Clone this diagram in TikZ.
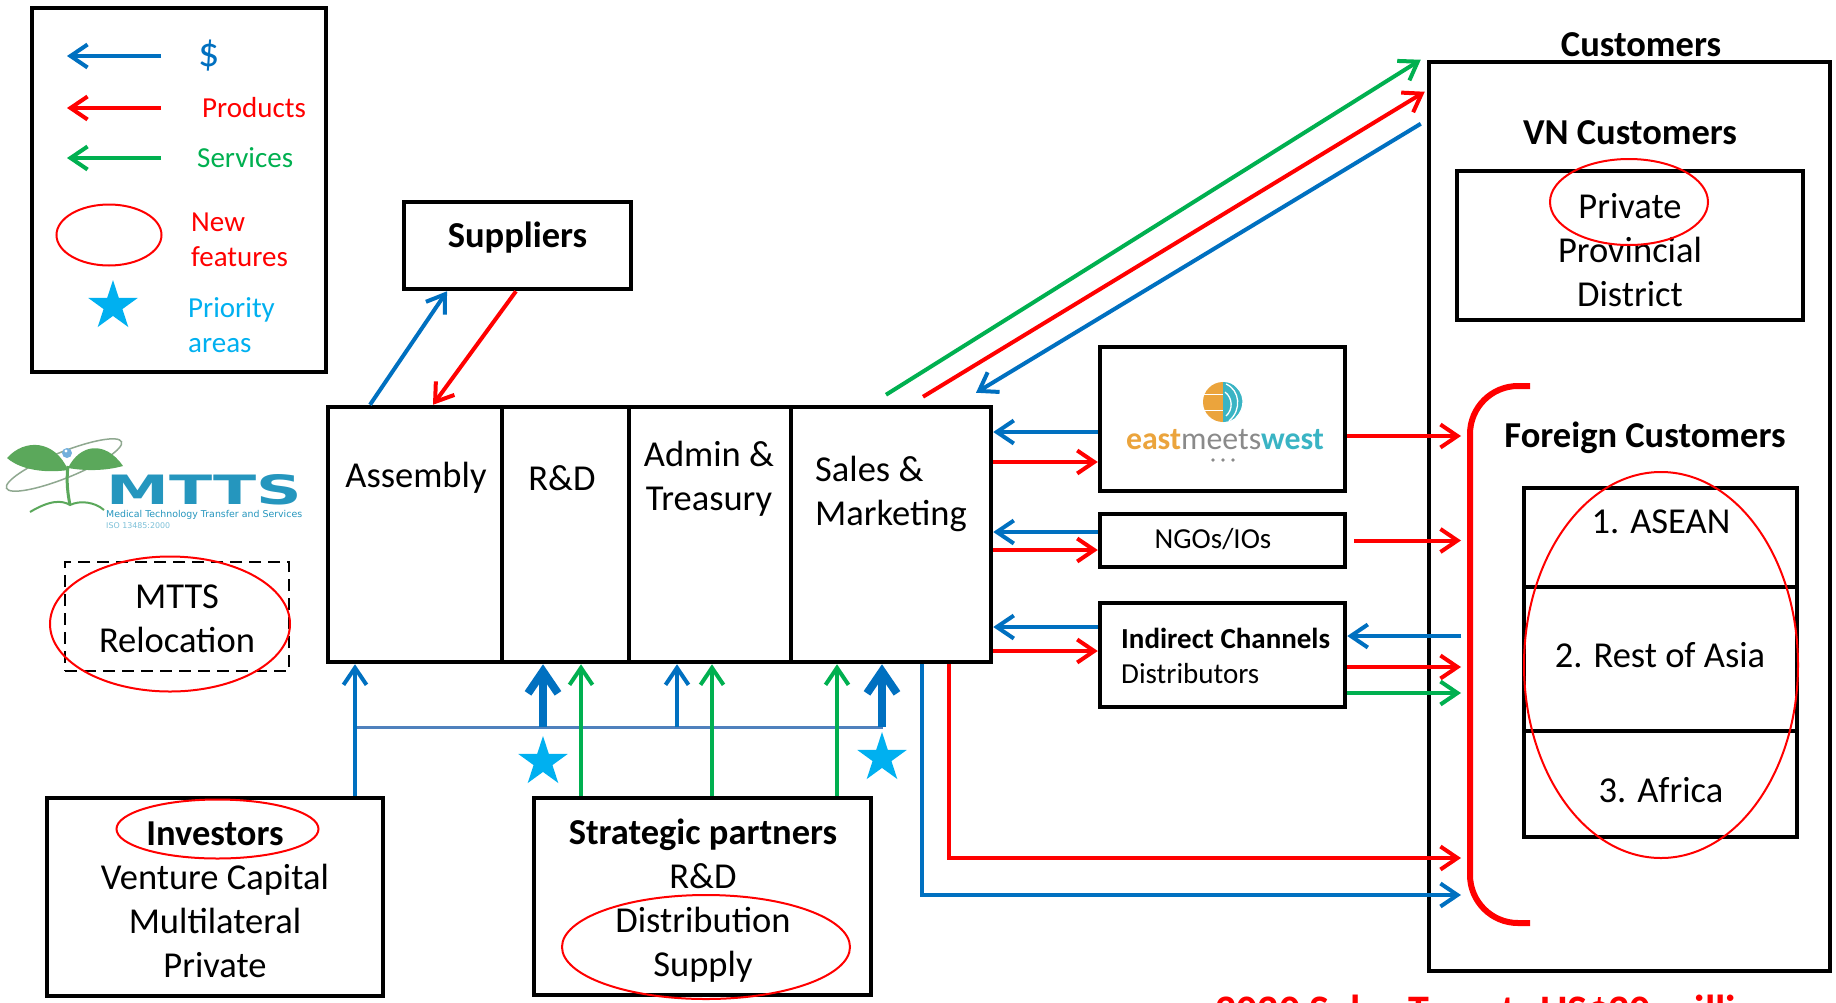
\documentclass[tikz,border=0pt]{standalone}
\usepackage{fontspec}
\usepackage{graphicx}
\setmainfont{Carlito}
\newfontfamily\logofont{DejaVu Sans}
\usetikzlibrary{arrows.meta,shapes.geometric,calc}
\definecolor{cblue}{HTML}{0070C0}
\definecolor{cred}{HTML}{FF0000}
\definecolor{cgreen}{HTML}{00B050}
\definecolor{cstar}{HTML}{00B0F0}
\definecolor{cbus}{HTML}{4F81BD}
\definecolor{mttsteal}{HTML}{2596BE}
\definecolor{leafgreen}{HTML}{5BA85B}
\definecolor{orbitc}{HTML}{8FA890}
\definecolor{emwor}{HTML}{EBA43C}
\definecolor{emwgr}{HTML}{8A8A8A}
\definecolor{emwte}{HTML}{3AB4C4}
\newcommand{\fontA}{\fontsize{36.5}{44}\selectfont}
\newcommand{\fontB}{\fontsize{29}{35}\selectfont}
\begin{document}
\begin{tikzpicture}[x=1pt,y=-1pt,
  box/.style={draw=black, line width=4.5pt, rectangle, inner sep=0pt},
  txt/.style={inner sep=0pt, align=center, font=\fontA},
  stxt/.style={inner sep=0pt, align=left, font=\fontB},
  newft/.style={draw=cred, line width=2pt, ellipse, inner sep=0pt},
  prio/.style={star, star points=5, star point ratio=2.618, minimum size=52pt, inner sep=0pt, fill=cstar, draw=none},
  dollar/.style={draw=cblue, line width=4pt, -{Straight Barb[length=17pt,width=23pt]}},
  prod/.style={draw=cred, line width=4pt, -{Straight Barb[length=17pt,width=23pt]}},
  serv/.style={draw=cgreen, line width=4pt, -{Straight Barb[length=17pt,width=23pt]}},
  thickdollar/.style={draw=cblue, line width=8pt, -{Straight Barb[length=22pt,width=30pt]}},
  bus/.style={draw=cbus, line width=3pt}
]
\useasboundingbox (0,0) rectangle (1836,1002);
\fill[white] (0,0) rectangle (1836,1002);

% ---------------- legend
\node[box, minimum width=294, minimum height=364] (leg) at (179,190) {};
\coordinate (l1a) at (161,56);  \coordinate (l1b) at (67,56);
\coordinate (l2a) at (161,108); \coordinate (l2b) at (67,108);
\coordinate (l3a) at (161,158); \coordinate (l3b) at (67,158);
\draw[dollar] (l1a) -- (l1b);
\draw[prod] (l2a) -- (l2b);
\draw[serv] (l3a) -- (l3b);
\node[inner sep=0pt, anchor=west, text=cblue, font=\fontsize{42}{46}\selectfont] (ldol) at (198,56) {\$};
\node[stxt, anchor=west, text=cred] (lprod) at (202,108) {Products};
\node[stxt, anchor=west, text=cgreen] (lserv) at (197,158) {Services};
\node[newft, minimum width=105, minimum height=61] (lell) at (109,235) {};
\node[stxt, anchor=west, text=cred] (lnew) at (191,239.5) {New\\features};
\node[prio] (lstar) at (113,306) {};
\node[stxt, anchor=west, text=cstar] (lprio) at (188,325) {Priority\\areas};

% ---------------- MTTS logo
\draw[orbitc, line width=1.5pt, rotate around={22:(64,465)}] (64,465) ellipse [x radius=62, y radius=13];
\fill[leafgreen] (7,458) .. controls (25,438) and (55,440) .. (68,470) .. controls (48,473) and (22,471) .. (7,458);
\fill[leafgreen] (68,468) .. controls (80,444) and (105,440) .. (123,466) .. controls (105,471) and (85,471) .. (68,468);
\draw[leafgreen, line width=3pt] (68,466) .. controls (66,482) and (68,495) .. (70,505);
\draw[leafgreen, line width=2pt] (30,512) .. controls (50,500) and (62,500) .. (70,505) .. controls (80,500) and (95,502) .. (104,510);
\fill[cblue!55] (67,453) circle (5);
\fill[white] (66,451) circle (1.6);
\node[inner sep=0pt, anchor=south west] (mtts) at (106,505) {\color{mttsteal}\resizebox{196pt}{30pt}{\logofont\bfseries MTTS}};
\node[inner sep=0pt, anchor=west] (mttssub) at (106,515) {\color{mttsteal}\resizebox{196pt}{!}{\logofont\fontsize{8}{8}\selectfont Medical Technology Transfer and Services}};
\node[inner sep=0pt, anchor=west] (mttsiso) at (106,526) {\color{mttsteal!60}\resizebox{64pt}{!}{\logofont\fontsize{7}{7}\selectfont ISO 13485:2000}};

% ---------------- relocation
\node[draw=black, line width=2pt, dash pattern=on 12pt off 7pt, minimum width=224, minimum height=109, inner sep=0pt] (reloc) at (177,616.5) {};
\node[txt] (reloct) at (177,618.5) {MTTS\\Relocation};
\node[newft, minimum width=240, minimum height=135] (relocell) at (170,624) {};

% ---------------- suppliers
\node[box, minimum width=227, minimum height=87] (sup) at (517.5,245.5) {};
\node[txt, font=\fontA\bfseries] (supt) at (517.5,238) {Suppliers};

% ---------------- main block
\node[box, minimum width=174, minimum height=255] (asm) at (415,534.5) {};
\node[box, minimum width=127, minimum height=255] (rnd) at (565.5,534.5) {};
\node[box, minimum width=162, minimum height=255] (adm) at (710,534.5) {};
\node[box, minimum width=200, minimum height=255] (sal) at (891,534.5) {};
\node[txt] (asmt) at (416,478) {Assembly};
\node[txt] (rndt) at (562,478) {R\&D};
\node[txt] (admt) at (709,478.5) {Admin \&\\Treasury};
\node[txt, align=left, anchor=west] (salt) at (815,493.5) {Sales \&\\Marketing};

% ---------------- suppliers arrows
\draw[dollar] ([xshift=-45pt]asm.north) -- ([xshift=-70.5pt]sup.south);
\draw[prod] ([xshift=-1.5pt]sup.south) -- ([xshift=18pt]asm.north);

% ---------------- partner boxes right
\node[box, minimum width=245, minimum height=144] (emw) at (1222.5,419) {};
\node[box, minimum width=245, minimum height=53] (ngo) at (1222.5,540.5) {};
\node[box, minimum width=245, minimum height=104] (ind) at (1222.5,655) {};
\node[stxt, align=center] (ngot) at (1213,539) {NGOs/IOs};
\node[stxt, anchor=west] (indt) at (1121,655.5) {\textbf{Indirect Channels}\\Distributors};

% eastmeetswest logo
\begin{scope}
  \clip (1202,380) rectangle (1223,424);
  \fill[emwor] (1223,402) circle (20);
  \draw[white, line width=0.8pt] (1203,394) -- (1223,394);
  \draw[white, line width=0.8pt] (1203,410) -- (1223,410);
\end{scope}
\begin{scope}
  \clip (1223,380) rectangle (1244,424);
  \fill[emwte] (1223,402) circle (20);
  \draw[white, line width=1.3pt] (1226,384) .. controls (1240,390) and (1242,410) .. (1229,421);
  \draw[white, line width=1.3pt] (1232,383) .. controls (1246,392) and (1246,408) .. (1236,418);
  \draw[white, line width=1.3pt] (1225,392) .. controls (1233,398) and (1233,410) .. (1226,416);
\end{scope}
\node[inner sep=0pt] (emwt) at (1225,440) {\resizebox{198pt}{!}{{\color{emwor}\bfseries east}{\color{emwgr}meets}{\color{emwte}\bfseries west}}};
\fill[emwgr] (1213,460) circle (1.8);
\fill[emwgr] (1223,460) circle (1.8);
\fill[emwgr] (1233,460) circle (1.8);

% ---------------- customers
\node[box, minimum width=401, minimum height=909] (cust) at (1629.5,516.5) {};
\node[txt, font=\fontA\bfseries] (custt) at (1641,45) {Customers};
\node[txt, font=\fontA\bfseries] (vnt) at (1630,133) {VN Customers};
\node[box, minimum width=346, minimum height=149] (vnb) at (1630,245.5) {};
\node[txt] (vntxt) at (1630,250) {Private\\Provincial\\District};
\node[newft, minimum width=158, minimum height=86] (vnell) at (1629,202) {};
\node[txt, font=\fontA\bfseries] (fort) at (1645,438) {Foreign Customers};
\draw[cred, line width=6pt, rounded corners=48pt] (1530,386) -- (1470,386) -- (1470,923) -- (1530,923);
\coordinate (brk) at (1461,500);
\node[box, minimum width=273, minimum height=99] (reg1) at (1660.5,537.5) {};
\node[box, minimum width=273, minimum height=144] (reg2) at (1660.5,659) {};
\node[box, minimum width=273, minimum height=106] (reg3) at (1660.5,784) {};
\node[txt] (reg1t) at (1661,522) {1. ASEAN};
\node[txt] (reg2t) at (1660,655) {2. Rest of Asia};
\node[txt] (reg3t) at (1661,790) {3. Africa};
\node[newft, minimum width=274, minimum height=386] (regell) at (1661,665) {};

% ---------------- top-right arrows
\coordinate (gS) at ([xshift=-5pt,yshift=10pt]sal.north);
\coordinate (rS) at ([xshift=32pt,yshift=8pt]sal.north);
\coordinate (bE) at ([xshift=85pt,yshift=12pt]sal.north);
\draw[serv] (gS) -- ([xshift=-6pt]cust.north west);
\draw[prod] (rS) -- ([xshift=-2pt,yshift=-32pt]cust.north west);
\draw[dollar] ([xshift=-6pt,yshift=-64pt]cust.north west) -- (bE);

% ---------------- block <-> partners
\coordinate (a1) at ([yshift=-13pt]emw.west);
\coordinate (a2) at ([yshift=-43pt]emw.west);
\coordinate (a3) at ([yshift=8.5pt]ngo.west);
\coordinate (a4) at ([yshift=-9.5pt]ngo.west);
\coordinate (a5) at ([yshift=28pt]ind.west);
\coordinate (a6) at ([yshift=4pt]ind.west);
\draw[dollar] (a1) -- (a1 -| sal.east);
\draw[prod] (a2 -| sal.east) -- (a2);
\draw[dollar] (a3) -- (a3 -| sal.east);
\draw[prod] (a4 -| sal.east) -- (a4);
\draw[dollar] (a5) -- (a5 -| sal.east);
\draw[prod] (a6 -| sal.east) -- (a6);

% ---------------- partners <-> foreign
\coordinate (b1) at ([yshift=-17pt]emw.east);
\coordinate (b2) at ([xshift=7pt]ngo.east);
\coordinate (b3) at ([yshift=19pt]ind.east);
\coordinate (b4) at ([yshift=-12pt]ind.east);
\coordinate (b5) at ([yshift=-38pt]ind.east);
\draw[prod] (b1) -- (b1 -| brk);
\draw[prod] (b2) -- (b2 -| brk);
\draw[dollar] (b3 -| brk) -- (b3);
\draw[prod] (b4) -- (b4 -| brk);
\draw[serv] (b5) -- (b5 -| brk);

% ---------------- block bottom -> foreign
\coordinate (c1) at ([xshift=58pt]sal.south);
\coordinate (c2) at ([xshift=31pt]sal.south);
\coordinate (r1) at (1461,858);
\coordinate (r2) at (1461,895);
\draw[prod] (c1) |- (r1);
\draw[dollar] (c2) |- (r2);

% ---------------- investors and strategic partners
\node[box, minimum width=336, minimum height=198] (inv) at (215,897) {};
\node[txt] (invt) at (215,900) {\textbf{Investors}\\Venture Capital\\Multilateral\\Private};
\node[newft, minimum width=202, minimum height=59] (invell) at (217.5,829) {};
\node[box, minimum width=337, minimum height=197] (str) at (702.5,896.5) {};
\node[txt] (strt) at (703,901) {\textbf{Strategic partners}\\R\&D\\Distribution\\Supply};
\node[newft, minimum width=288, minimum height=104] (strell) at (706,947) {};

\coordinate (busL) at (355,727);
\coordinate (busR) at (883,727);
\draw[bus] (busL) -- (busR);
\coordinate (i1) at ([xshift=140pt]inv.north);
\draw[dollar] (i1) -- (i1 |- asm.south);
\coordinate (t1) at (543,727);
\coordinate (t2) at (882,727);
\coordinate (t3) at (677,727);
\draw[thickdollar] (t1) -- (t1 |- rnd.south);
\draw[thickdollar] (t2) -- (t2 |- sal.south);
\draw[dollar] (t3) -- (t3 |- adm.south);
\coordinate (g1) at ([xshift=-121.5pt]str.north);
\coordinate (g2) at ([xshift=9.5pt]str.north);
\coordinate (g3) at ([xshift=134.5pt]str.north);
\draw[serv] (g1) -- (g1 |- rnd.south);
\draw[serv] (g2) -- (g2 |- adm.south);
\draw[serv] (g3) -- (g3 |- sal.south);
\node[prio] (s1) at (543,762) {};
\node[prio] (s2) at (882,758) {};

% ---------------- bottom text (cut off by page edge, as in the reference)
\node[anchor=base west, inner sep=0pt, text=cred, font=\fontsize{42}{50}\selectfont\bfseries] (target) at (1215,1024) {2020 Sales Target: US\$20 million};
\end{tikzpicture}
\end{document}
